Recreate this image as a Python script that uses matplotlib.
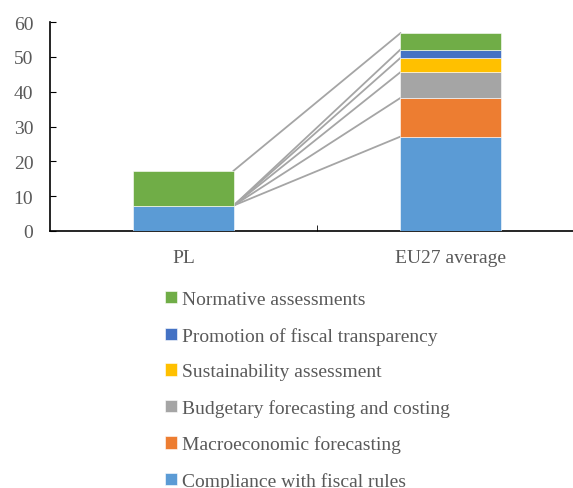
import numpy as np
from matplotlib import pyplot as plt

plt.rcParams['font.family'] = ['Liberation Serif', 'DejaVu Serif']

categories = ['PL', 'EU27 average']
series_names = ['Compliance with fiscal rules', 'Macroeconomic forecasting',
                'Budgetary forecasting and costing', 'Sustainability assessment',
                'Promotion of fiscal transparency', 'Normative assessments']
pl_values = [7.3, 0, 0, 0, 0, 10.0]
eu_values = [27.1, 11.1, 7.4, 4.1, 2.4, 4.7]
colors = ['#5B9BD5', '#ED7D31', '#A5A5A5', '#FFC000', '#4472C4', '#70AD47']

fig = plt.figure(figsize=(5.73, 4.89), dpi=100)
ax = fig.add_axes([50/573, 1-232/489, 534/573, 209/489])

x = np.arange(len(categories))
width = 0.375
bottom = np.zeros(2)
tops = []
for name, pl, eu, col in zip(series_names, pl_values, eu_values, colors):
    vals = np.array([pl, eu])
    ax.bar(x, vals, width, bottom=bottom, color=col, label=name,
           edgecolor='white', linewidth=0.4, zorder=3)
    bottom = bottom + vals
    tops.append(bottom.copy())

# series lines between the stacked bars
for t in tops:
    ax.plot([x[0] + width/2, x[1] - width/2], [t[0], t[1]],
            color='#A5A5A5', linewidth=1.3, zorder=2)

ax.set_xlim(-0.5, 1.5)
ax.set_ylim(0, 60)
ax.set_yticks(range(0, 61, 10))
ax.set_xticks(x)
ax.set_xticklabels(categories)
ax.set_xticks([0.5, 1.5], minor=True)
ax.tick_params(axis='x', which='major', length=0, pad=13, labelsize=14, labelcolor='#595959')
ax.tick_params(axis='x', which='minor', length=4, direction='in', color='black')
ax.tick_params(axis='y', length=4, direction='in', labelsize=14, labelcolor='#595959', pad=12)
for s in ['top', 'right']:
    ax.spines[s].set_visible(False)
for s in ['left', 'bottom']:
    ax.spines[s].set_linewidth(1.2)
    ax.spines[s].set_color('black')

handles, labels = ax.get_legend_handles_labels()
fig.legend(handles[::-1], labels[::-1], loc='upper left', bbox_to_anchor=(165/573, 1-292/489),
           frameon=False, fontsize=14, labelcolor='#595959', handlelength=0.6,
           handleheight=0.6, handletextpad=0.25, labelspacing=0.96, borderaxespad=0, borderpad=0)

fig.savefig('out.png', dpi=100)
